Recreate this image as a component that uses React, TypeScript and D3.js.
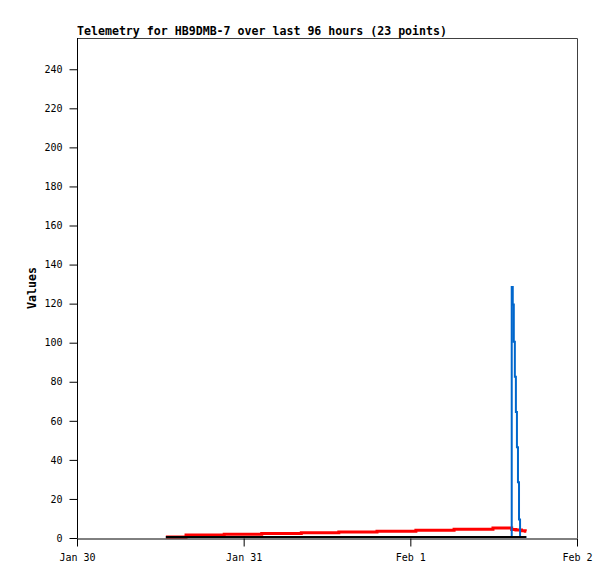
import * as d3 from "d3";
import React, { useEffect, useRef } from "react";

// hours after Jan 30 00:00 (UTC) for each of the 23 telemetry points
const hoursSinceJan30 = [
  12.8, 15.7, 21.2, 26.6, 32.3, 37.7, 43.2, 48.8, 54.3, 59.9, 62.6, 62.75,
  62.9, 63.05, 63.2, 63.35, 63.5, 63.65, 63.8, 64.0, 64.3, 64.55, 64.7,
];

const redValues = [
  0, 1.0, 1.4, 1.8, 2.2, 2.5, 2.9, 3.5, 4.0, 4.6, 3.8, 3.8, 3.8, 3.8, 3.6,
  3.6, 3.6, 3.6, 3.6, 3.2, 3.2, 3.0, 3.0,
];
const blueValues = [
  0, 0, 0, 0, 0, 0, 0, 0, 0, 0, 128, 119, 100, 82, 64, 46, 28, 9, 0, 0, 0, 0,
  0,
];
const blackValues = [
  0, 0, 0, 0, 0, 0, 0, 0, 0, 0, 0, 0, 0, 0, 0, 0, 0, 0, 0, 0, 0, 0, 0,
];

const xTickDays = ["2024-01-30", "2024-01-31", "2024-02-01", "2024-02-02"];
const yTicks = [0, 20, 40, 60, 80, 100, 120, 140, 160, 180, 200, 220, 240];

const title = "Telemetry for HB9DMB-7 over last 96 hours (23 points)";
const mono = "'DejaVu Sans Mono', 'Liberation Mono', monospace";

export default function App() {
  const svgRef = useRef<SVGSVGElement | null>(null);

  useEffect(() => {
    const svg = d3.select(svgRef.current);
    svg.selectAll("*").remove();

    const margin = { top: 38, right: 38, bottom: 41, left: 77 };
    const width = 615 - margin.left - margin.right;
    const height = 579 - margin.top - margin.bottom;

    const base = new Date("2024-01-30T00:00:00Z").getTime();
    const times = hoursSinceJan30.map((h) => new Date(base + h * 3600e3));

    const x = d3
      .scaleUtc()
      .domain([new Date("2024-01-30T00:00:00Z"), new Date("2024-02-02T00:00:00Z")])
      .range([0, width]);
    const y = d3.scaleLinear().domain([0, 256]).range([height, 0]);

    const g = svg
      .append("g")
      .attr("transform", `translate(${margin.left},${margin.top})`);

    // frame (top and right)
    g.append("path")
      .attr("d", `M0.5,0.5H${width + 0.5}V${height}`)
      .attr("fill", "none")
      .attr("stroke", "#404040");

    const line = d3
      .line<number>()
      .x((_, i) => x(times[i]))
      .y((d) => y(d))
      .curve(d3.curveStepAfter);

    const series = [
      { values: redValues, color: "#ff0000", w: 3 },
      { values: blueValues, color: "#0066cc", w: 2 },
      { values: blackValues, color: "#000000", w: 2 },
    ];
    series.forEach((s) => {
      g.append("path")
        .datum(s.values)
        .attr("d", line)
        .attr("fill", "none")
        .attr("stroke", s.color)
        .attr("stroke-width", s.w)
        .attr("transform", "translate(0,-1)");
    });

    const xAxis = g
      .append("g")
      .attr("transform", `translate(0,${height + 0.5})`)
      .call(
        d3
          .axisBottom(x)
          .tickValues(xTickDays.map((d) => new Date(d + "T00:00:00Z")))
          .tickFormat((d) => d3.utcFormat("%b %-d")(d as Date))
          .tickSize(8)
          .tickSizeOuter(0)
          .tickPadding(7)
      );

    const yAxis = g
      .append("g")
      .attr("transform", "translate(0.5,0)")
      .call(
        d3
          .axisLeft(y)
          .tickValues(yTicks)
          .tickSize(8)
          .tickSizeOuter(0)
          .tickPadding(7)
      );

    [xAxis, yAxis].forEach((a) => {
      a.attr("font-family", mono).attr("font-size", 10);
      a.selectAll("path, line").attr("stroke", "#000");
      a.selectAll("text").attr("fill", "#000");
    });
    yAxis.select(".domain").attr("d", `M0,0V${height}`);

    svg
      .append("text")
      .attr("x", margin.left)
      .attr("y", 35)
      .attr("font-family", mono)
      .attr("font-weight", "bold")
      .attr("font-size", 11.6)
      .attr("textLength", 370)
      .text(title);

    svg
      .append("text")
      .attr("transform", `translate(36,${margin.top + height / 2}) rotate(-90)`)
      .attr("text-anchor", "middle")
      .attr("font-family", mono)
      .attr("font-weight", "bold")
      .attr("font-size", 11.6)
      .text("Values");
  }, []);

  return (
    <svg
      ref={svgRef}
      width={615}
      height={579}
      style={{ position: "absolute", left: 0, top: 0, background: "#fff" }}
    />
  );
}
